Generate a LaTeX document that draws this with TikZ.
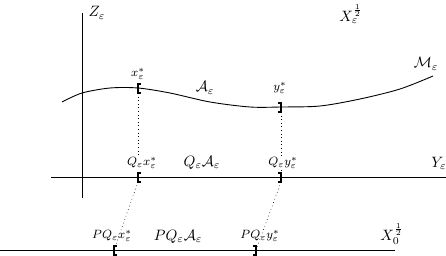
\documentclass[tikz,border=0pt]{standalone}
\usepackage{amsmath,amssymb}
\usepackage{tikz}
\usetikzlibrary{calc}
\newcommand{\eps}{\varepsilon}
\newcommand{\lbrk}[1]{\draw[thick] ($(#1)+(3,-4)$) -- ++(-3,0) -- ++(0,9) -- ++(3,0);}
\newcommand{\rbrk}[1]{\draw[thick] ($(#1)+(-3,-4)$) -- ++(3,0) -- ++(0,9) -- ++(-3,0);}

\begin{document}
\begin{tikzpicture}[x=0.667pt,y=-0.667pt]
  \useasboundingbox (0,0) rectangle (446,255);
  % axes
  \draw[semithick] (82,13) -- (82,198);
  \draw[semithick] (51,177) -- (446,177);
  \draw[semithick] (0,250) -- (395,250);
  % the manifold
  \draw[semithick] plot[smooth] coordinates {(62,102) (82,93) (110,88) (138,88) (170,93)
    (210,102) (250,107) (281,107) (320,106) (360,99) (400,89) (433,76)};
  \coordinate (xs) at (138,88);
  \coordinate (ys) at (281,107);
  \coordinate (qx) at (138,177);
  \coordinate (qy) at (281,177);
  \coordinate (pqx) at (114,250);
  \coordinate (pqy) at (256,250);
  \draw[dotted] (xs) ++(0,5) -- (qx);
  \draw[dotted] (ys) ++(0,5) -- (qy);
  \draw[dotted] (qx) ++(0,5) -- (pqx);
  \draw[dotted] (qy) ++(0,5) -- (pqy);
  \lbrk{xs} \rbrk{ys}
  \lbrk{qx} \rbrk{qy}
  \lbrk{pqx} \rbrk{pqy}
  % labels
  \node (zlab) at (97,13) {$Z_\eps$};
  \node (xlab) at (351,14) {$X_\eps^{\frac12}$};
  \node (mlab) at (426,64) {$\mathcal{M}_\eps$};
  \node (alab) at (205,88) {$\mathcal{A}_\eps$};
  \node (ylab) at (439,163) {$Y_\eps$};
  \node (qalab) at (202,163) {$Q_\eps\mathcal{A}_\eps$};
  \node (pqalab) at (178,237) {$PQ_\eps\mathcal{A}_\eps$};
  \node (x0lab) at (392,234) {$X_0^{\frac12}$};
  \node[font=\footnotesize] (xslab) at (138,74) {$x_\eps^*$};
  \node[font=\footnotesize] (yslab) at (280,88) {$y_\eps^*$};
  \node[font=\footnotesize, fill=white, inner sep=1pt] (qxlab) at (142,163) {$Q_\eps x_\eps^*$};
  \node[font=\footnotesize, fill=white, inner sep=1pt] (qylab) at (283,163) {$Q_\eps y_\eps^*$};
  \node[font=\footnotesize] (pqxlab) at (112,236) {$PQ_\eps x_\eps^*$};
  \node[font=\footnotesize] (pqylab) at (260,236) {$PQ_\eps y_\eps^*$};
\end{tikzpicture}
\end{document}
